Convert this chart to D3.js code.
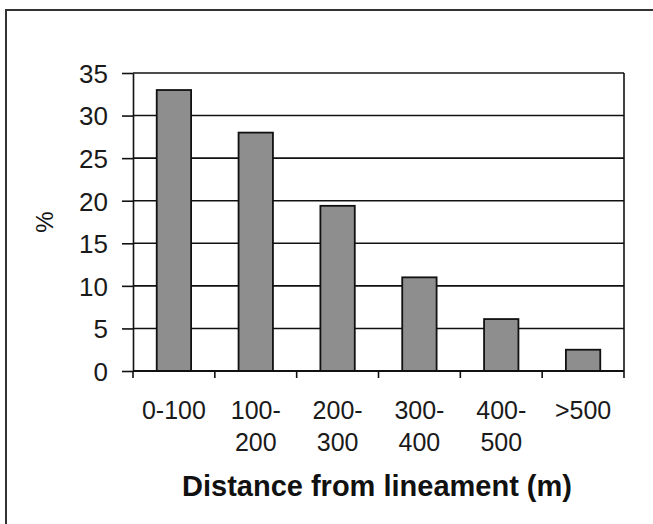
<!DOCTYPE html>
<html>
<head>
<meta charset="utf-8">
<script src="https://cdn.jsdelivr.net/npm/d3@7"></script>
<style>
  body { margin: 0; background: #fff; }
  svg { display: block; font-family: "Liberation Sans", Arial, sans-serif; }
  .tick text { fill: #1a1a1a; }
</style>
</head>
<body>
<svg width="653" height="524"></svg>
<script>
var categories = ["0-100", "100-200", "200-300", "300-400", "400-500", ">500"];
var labelLines = [["0-100"], ["100-", "200"], ["200-", "300"], ["300-", "400"], ["400-", "500"], [">500"]];
var percents = [33, 28, 19.4, 11, 6.1, 2.5];
var yTicks = [0, 5, 10, 15, 20, 25, 30, 35];

var svg = d3.select("svg"),
  margin = { left: 133, right: 29, top: 73, bottom: 153 },
  width = +svg.attr("width") - margin.left - margin.right,
  height = +svg.attr("height") - margin.top - margin.bottom;

// outer frame (cropped on right and bottom)
svg.append("rect")
  .attr("x", 6).attr("y", 10)
  .attr("width", 700).attr("height", 600)
  .attr("fill", "none")
  .attr("stroke", "#333")
  .attr("stroke-width", 2);

var g = svg.append("g")
  .attr("transform", "translate(" + margin.left + "," + margin.top + ")");

var x = d3.scaleBand()
  .domain(categories)
  .range([0, width])
  .paddingInner(0.58)
  .paddingOuter(0.29);

var y = d3.scaleLinear().domain([0, 35]).range([height, 0]);

// gridlines
g.selectAll("line.grid")
  .data(yTicks.filter(d => d > 0))
  .enter()
  .append("line")
  .attr("class", "grid")
  .attr("x1", 0).attr("x2", width)
  .attr("y1", d => y(d)).attr("y2", d => y(d))
  .attr("stroke", "#111")
  .attr("stroke-width", 1.6);

// right edge of plot area
g.append("line")
  .attr("x1", width).attr("x2", width)
  .attr("y1", 0).attr("y2", height)
  .attr("stroke", "#111")
  .attr("stroke-width", 1.6);

// bars
g.selectAll("rect.bar")
  .data(percents)
  .enter()
  .append("rect")
  .attr("class", "bar")
  .attr("x", (d, i) => x(categories[i]))
  .attr("y", d => y(d))
  .attr("width", x.bandwidth())
  .attr("height", d => height - y(d))
  .attr("fill", "#8e8e8e")
  .attr("stroke", "#111")
  .attr("stroke-width", 1.8);

// y axis
var yAxis = g.append("g")
  .call(d3.axisLeft(y).tickValues(yTicks).tickSize(11).tickSizeOuter(0).tickPadding(14));
yAxis.selectAll("line, path").attr("stroke", "#111").attr("stroke-width", 1.6);
yAxis.selectAll("text").style("font-size", "26px").attr("dy", "0.36em");

// x axis line and category boundary ticks
g.append("line")
  .attr("x1", 0).attr("x2", width)
  .attr("y1", height).attr("y2", height)
  .attr("stroke", "#111")
  .attr("stroke-width", 1.8);

g.selectAll("line.xtick")
  .data(d3.range(categories.length + 1))
  .enter()
  .append("line")
  .attr("class", "xtick")
  .attr("x1", i => i * x.step()).attr("x2", i => i * x.step())
  .attr("y1", height).attr("y2", height + 7)
  .attr("stroke", "#111")
  .attr("stroke-width", 1.6);

// category labels
var lbl = g.selectAll("text.cat")
  .data(labelLines)
  .enter()
  .append("text")
  .attr("class", "cat")
  .attr("text-anchor", "middle")
  .attr("fill", "#1a1a1a")
  .style("font-size", "25px")
  .attr("transform", (d, i) => "translate(" + (x(categories[i]) + x.bandwidth() / 2) + "," + (height + 48) + ")");

lbl.selectAll("tspan")
  .data(d => d)
  .enter()
  .append("tspan")
  .attr("x", 0)
  .attr("dy", (d, i) => i === 0 ? 0 : 32)
  .text(d => d);

// axis titles
svg.append("text")
  .attr("x", 377)
  .attr("y", 496)
  .attr("text-anchor", "middle")
  .attr("fill", "#111")
  .style("font-size", "29px")
  .style("font-weight", "bold")
  .text("Distance from lineament (m)");

svg.append("text")
  .attr("text-anchor", "middle")
  .attr("transform", "translate(53,222)rotate(-90)")
  .attr("fill", "#111")
  .style("font-size", "24px")
  .text("%");
</script>
</body>
</html>
